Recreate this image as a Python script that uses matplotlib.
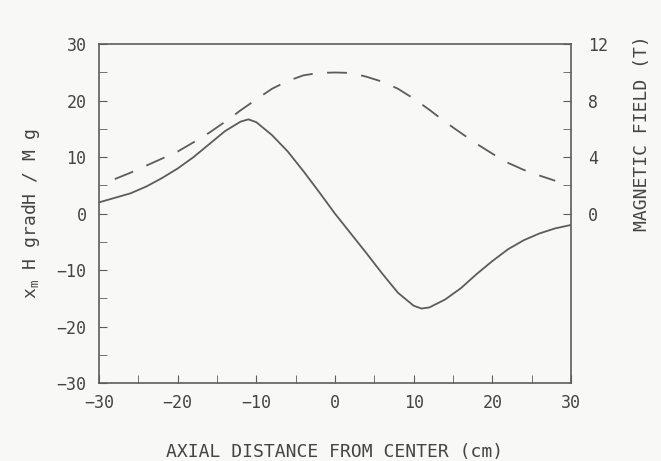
import matplotlib.pyplot as plt

plt.rcParams['font.family'] = 'DejaVu Sans Mono'
plt.rcParams['mathtext.fontset'] = 'custom'
plt.rcParams['mathtext.rm'] = 'DejaVu Sans Mono'
plt.rcParams['mathtext.it'] = 'DejaVu Sans Mono'

# force curve (left axis)
force_x = [-30, -28, -26, -24, -22, -20, -18, -16, -14, -12, -11, -10, -8, -6, -4, -2, 0,
           2, 4, 6, 8, 10, 11, 12, 14, 16, 18, 20, 22, 24, 26, 28, 30]
force_y = [2.0, 2.8, 3.6, 4.8, 6.3, 8.0, 10.0, 12.3, 14.6, 16.3, 16.7, 16.2, 13.9, 11.0, 7.5, 3.8, 0.0,
           -3.5, -7.0, -10.6, -14.0, -16.3, -16.8, -16.6, -15.2, -13.2, -10.7, -8.4, -6.3, -4.7, -3.5, -2.6, -2.0]

# magnetic field (right axis, T)
field_x = [-28, -26, -24, -22, -20, -18, -16, -14, -12, -10, -8, -6, -4, -2, 0,
           2, 4, 6, 8, 10, 12, 14, 16, 18, 20, 22, 24, 26, 28]
field_t = [2.45, 2.9, 3.4, 3.9, 4.4, 5.05, 5.73, 6.5, 7.32, 8.1, 8.85, 9.4, 9.8, 9.97, 10.0,
           9.97, 9.7, 9.35, 8.85, 8.15, 7.36, 6.5, 5.72, 4.95, 4.25, 3.6, 3.1, 2.7, 2.33]

col = '#5c5c5c'
txt = '#444444'
bg = '#f8f8f6'

fig = plt.figure(figsize=(6.61, 4.61), dpi=100, facecolor=bg)
ax = fig.add_axes([0.1498, 0.169, 0.714, 0.735], facecolor=bg)
ax.plot(force_x, force_y, color=col, lw=1.3)
ax.set_xlim(-30, 30)
ax.set_ylim(-30, 30)
ax.set_xticks(range(-30, 31, 10))
ax.set_xticks(range(-30, 31, 5), minor=True)
ax.set_yticks(range(-30, 31, 10))
ax.set_yticks(range(-30, 31, 5), minor=True)
ax.tick_params(which='both', direction='in', color=col, labelcolor=txt, labelsize=12, top=False, length=6)
ax.tick_params(axis='x', which='both', pad=8)
ax.tick_params(axis='y', which='both', pad=9)
for s in ax.spines.values():
    s.set_color(col)
    s.set_linewidth(1.2)

ax2 = ax.twinx()
ax2.plot(field_x, field_t, color=col, lw=1.3, dashes=(11, 8))
ax2.set_ylim(-12, 12)
ax2.set_yticks([0, 4, 8, 12])
ax2.set_yticks([2, 6, 10], minor=True)
ax2.tick_params(which='both', direction='in', color=col, labelcolor=txt, labelsize=12, length=6, pad=12)
for s in ax2.spines.values():
    s.set_visible(False)

ax.set_xlabel('AXIAL DISTANCE FROM CENTER (cm)', fontsize=13, color=txt)
ax.xaxis.set_label_coords(0.5, -0.178)
ax.set_ylabel(r'x$_{\mathrm{m}}$ H gradH / M g', fontsize=13, color=txt)
ax.yaxis.set_label_coords(-0.121, 0.5)
ax2.set_ylabel('MAGNETIC FIELD (T)', fontsize=13, color=txt, rotation=90)
ax2.yaxis.set_label_coords(1.132, 0.737)

plt.savefig('out.png', dpi=100, facecolor=bg)
